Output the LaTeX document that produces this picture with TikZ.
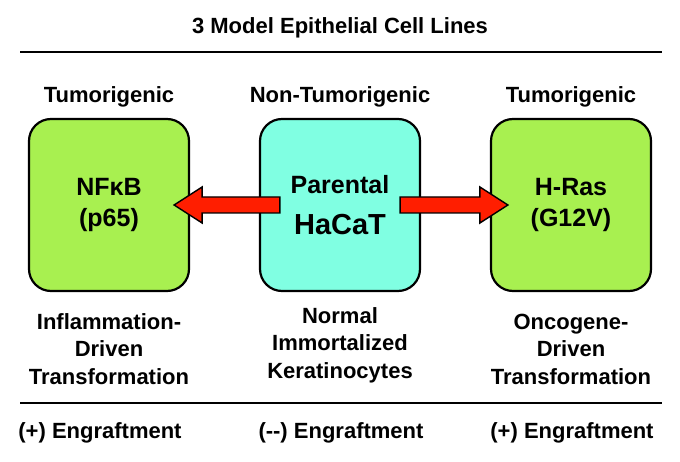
\documentclass[tikz,border=0pt]{standalone}
\usepackage{fontspec}
\setmainfont{Liberation Sans}
\usetikzlibrary{calc}

\definecolor{cellgreen}{RGB}{168,240,80}
\definecolor{cellcyan}{RGB}{128,255,226}
\definecolor{arrowred}{RGB}{255,30,0}

% block arrow between two named points
\newcommand{\fatarrow}[2]{%
  \coordinate (fa-base) at ($(#2)!28pt!(#1)$);
  \draw[fatarrow] ($(#1)+(0,8)$) -- ($(fa-base)+(0,8)$) -- ($(fa-base)+(0,18)$)
    -- (#2) -- ($(fa-base)+(0,-18)$) -- ($(fa-base)+(0,-8)$) -- ($(#1)+(0,-8)$) -- cycle;}

\begin{document}
\begin{tikzpicture}[x=1pt,y=-1pt,
  lbl/.style={font=\bfseries\fontsize{22}{27.5}\selectfont,align=center,inner sep=0pt},
  cell/.style={draw,line width=2.2pt,rounded corners=22pt,minimum width=160pt,minimum height=172pt,
    align=center,font=\bfseries\fontsize{25}{31}\selectfont},
  fatarrow/.style={draw,line width=1.4pt,fill=arrowred,line join=miter},
  rule/.style={line width=2.2pt}]
 \useasboundingbox (0,0) rectangle (680,462);
 % title
 \node[lbl] (title) at (340,28) {3 Model Epithelial Cell Lines};
 \coordinate (topl) at (20,52);
 \coordinate (topr) at (662,52);
 \draw[rule] (topl) -- (topr);
 % headers
 \node[lbl] (tumleft) at (109,97) {Tumorigenic};
 \node[lbl] (nontum) at (340,97) {Non-Tumorigenic};
 \node[lbl] (tumright) at (571,97) {Tumorigenic};
 % cell lines
 \node[cell,fill=cellgreen] (nfkb) at (109,205) {NFκB\\(p65)};
 \node[cell,fill=cellcyan] (hacat) at (340,205) {\raisebox{3pt}{Parental}\\[7pt]{\fontsize{29}{31}\selectfont HaCaT}};
 \node[cell,fill=cellgreen] (hras) at (571,205) {H-Ras\\(G12V)};
 % arrows
 \coordinate (ltail) at ($(hacat.west)+(21,0)$);
 \coordinate (ltip) at ($(nfkb.east)+(-16,0)$);
 \coordinate (rtail) at ($(hacat.east)+(-21,0)$);
 \coordinate (rtip) at ($(hras.west)+(18,0)$);
 \fatarrow{ltail}{ltip}
 \fatarrow{rtail}{rtip}
 % descriptions
 \node[lbl] (inflam) at (109,349) {Inflammation-\\Driven\\Transformation};
 \node[lbl] (normal) at (340,345) {Normal\\Immortalized\\Keratinocytes};
 \node[lbl] (onco) at (571,349) {Oncogene-\\Driven\\Transformation};
 \coordinate (botl) at (20,403);
 \coordinate (botr) at (662,403);
 \draw[rule] (botl) -- (botr);
 % engraftment
 \node[lbl] (engl) at (100,433) {(+) Engraftment};
 \node[lbl] (engm) at (341,433) {(-{}-) Engraftment};
 \node[lbl] (engr) at (572,433) {(+) Engraftment};
\end{tikzpicture}
\end{document}
